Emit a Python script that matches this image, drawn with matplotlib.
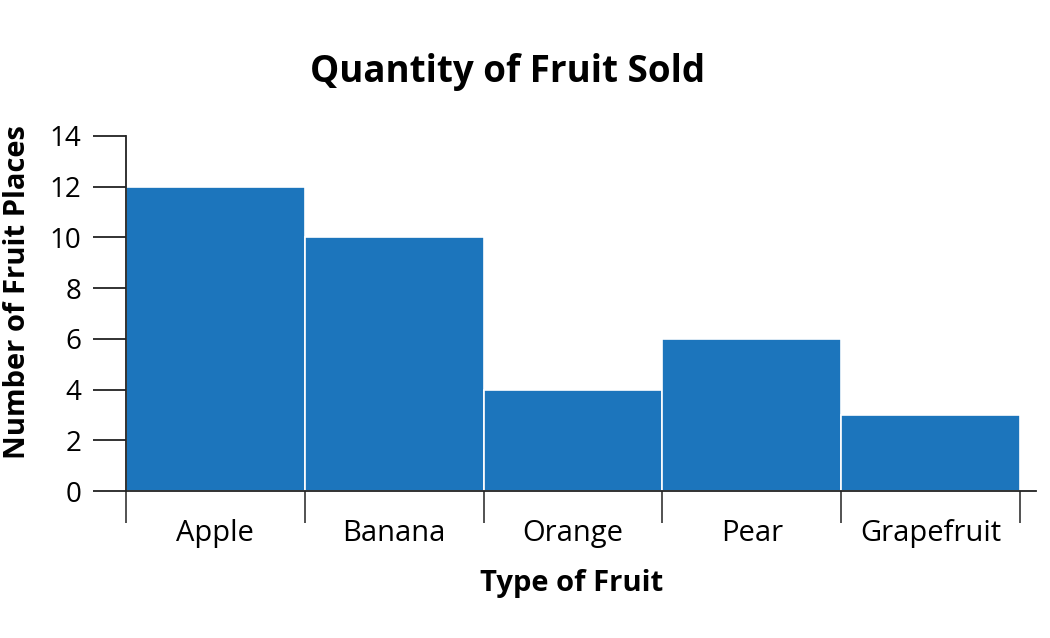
import matplotlib.pyplot as plt
from matplotlib.ticker import FixedLocator

fruits = ['Apple', 'Banana', 'Orange', 'Pear', 'Grapefruit']
quantity = [12, 10, 4, 6, 3]
y_ticks = [0, 2, 4, 6, 8, 10, 12, 14]

plt.rcParams['font.family'] = ['Open Sans', 'DejaVu Sans']

fig = plt.figure(figsize=(10.5, 6.38), dpi=100)
ax = fig.add_axes([126 / 1050, 1 - 491 / 638, 910 / 1050, 355 / 638])

pos = list(range(len(fruits)))
ax.bar(pos, quantity, width=1.0, color='#1c75bc', edgecolor='white', linewidth=1.2)

ax.set_xlim(-0.5, len(fruits) - 0.41)
ax.set_ylim(0, 14)
ax.set_yticks(y_ticks)
ax.set_xticks(pos)
ax.set_xticklabels(fruits)
ax.xaxis.set_minor_locator(FixedLocator([p - 0.5 for p in pos] + [len(fruits) - 0.5]))

for s in ['top', 'right']:
    ax.spines[s].set_visible(False)
for s in ['left', 'bottom']:
    ax.spines[s].set_linewidth(1.3)
    ax.spines[s].set_color('#222222')

ax.tick_params(axis='y', length=24, width=1.3, color='#222222', labelsize=20, pad=8)
ax.tick_params(axis='x', which='major', length=0, labelsize=21, pad=20)
ax.tick_params(axis='x', which='minor', length=23, width=1.3, color='#444444')

fig.text(508 / 1050, 1 - 72 / 638, 'Quantity of Fruit Sold', ha='center', va='center',
         fontsize=26.5, fontweight='bold')
fig.text(572 / 1050, 1 - 583 / 638, 'Type of Fruit', ha='center', va='center',
         fontsize=21, fontweight='bold')
fig.text(18 / 1050, 1 - 292 / 638, 'Number of Fruit Places', ha='center', va='center',
         rotation=90, fontsize=21, fontweight='bold')

plt.savefig('out.png')
